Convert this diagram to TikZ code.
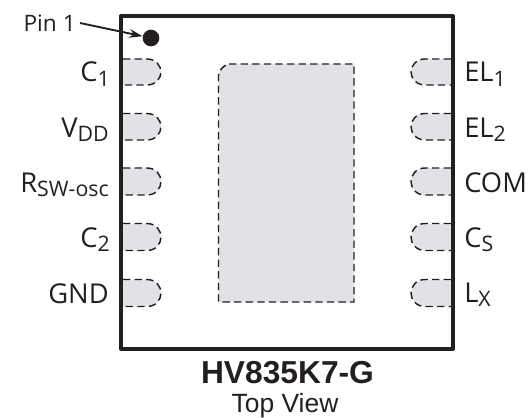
\documentclass[tikz,border=0pt]{standalone}
\usepackage{fontspec}
\setmainfont{Open Sans}
\newfontfamily\headfont{Liberation Sans}
\usetikzlibrary{shapes,arrows.meta}

\definecolor{padgray}{RGB}{225,226,230}
\definecolor{inkblack}{RGB}{35,31,32}

\newcommand{\pinsub}[1]{\raisebox{-3.5pt}{\fontsize{16}{16}\selectfont #1}}

\tikzset{
  pad/.style={fill=padgray,draw=inkblack,line width=1.1pt,dash pattern={on 5.5pt off 3.2pt}},
  pinlabel/.style={inner sep=0pt,text=inkblack,font=\fontsize{20.5}{22}\selectfont}
}

\begin{document}
\begin{tikzpicture}[x=0.75pt,y=0.75pt,yscale=-1,xscale=1]
    \useasboundingbox (0,0) rectangle (530,417);

    %Shape: Exposed Pad
    \draw [pad] (229,64) -- (354,64) -- (354,302) -- (218.5,302) -- (218.5,75) .. controls (219,70) and (224,65) .. (229,64) -- cycle;

    %Shape: Left Pads
    \draw [pad] (123,59) -- (147,59) .. controls (156,59) and (161,66) .. (161,72) .. controls (161,78) and (156,85) .. (147,85) -- (123,85);
    \draw [pad] (123,113.5) -- (147,113.5) .. controls (156,113.5) and (161,120.5) .. (161,126.5) .. controls (161,133) and (156,140) .. (147,140) -- (123,140);
    \draw [pad] (123,168) -- (147,168) .. controls (156,168) and (161,175) .. (161,181.5) .. controls (161,188) and (156,195) .. (147,195) -- (123,195);
    \draw [pad] (123,223.5) -- (147,223.5) .. controls (156,223.5) and (161,230.5) .. (161,237) .. controls (161,243.5) and (156,250.5) .. (147,250.5) -- (123,250.5);
    \draw [pad] (123,279.5) -- (147,279.5) .. controls (156,279.5) and (161,286.5) .. (161,293) .. controls (161,299.5) and (156,306.5) .. (147,306.5) -- (123,306.5);

    %Shape: Right Pads
    \draw [pad] (451,59) -- (425,59) .. controls (416,59) and (411,66) .. (411,72) .. controls (411,78) and (416,85) .. (425,85) -- (451,85);
    \draw [pad] (451,113.5) -- (425,113.5) .. controls (416,113.5) and (411,120.5) .. (411,126.5) .. controls (411,133) and (416,140) .. (425,140) -- (451,140);
    \draw [pad] (451,168) -- (425,168) .. controls (416,168) and (411,175) .. (411,181.5) .. controls (411,188) and (416,195) .. (425,195) -- (451,195);
    \draw [pad] (451,223.5) -- (425,223.5) .. controls (416,223.5) and (411,230.5) .. (411,237) .. controls (411,243.5) and (416,250.5) .. (425,250.5) -- (451,250.5);
    \draw [pad] (451,279.5) -- (425,279.5) .. controls (416,279.5) and (411,286.5) .. (411,293) .. controls (411,299.5) and (416,306.5) .. (425,306.5) -- (451,306.5);

    %Shape: Package Outline
    \draw [draw=inkblack,line width=3pt,line join=round] (121,16) rectangle (453,348.5);

    %Shape: Pin Dot
    \node (pindot) [circle,fill=inkblack,minimum size=12.5pt,inner sep=0pt] at (151,38) {};

    % Text Node
    \node (pinone) [pinlabel,anchor=east,font=\fontsize{17}{19}\selectfont] at (76,23) {Pin 1};
    %Straight Lines
    \draw [-{Stealth[length=10pt,width=6.5pt]},draw=inkblack,line width=1.4pt] (pinone.east) ++(4,0) -- (pindot);

    % Text Node
    \node (cone) [pinlabel,anchor=base east] at (110,82) {C\pinsub{1}};
    % Text Node
    \node (vdd) [pinlabel,anchor=base east] at (109,137) {V\pinsub{DD}};
    % Text Node
    \node (rsw) [pinlabel,anchor=base east] at (109,192) {R\pinsub{SW-osc}};
    % Text Node
    \node (ctwo) [pinlabel,anchor=base east] at (110,247) {C\pinsub{2}};
    % Text Node
    \node (gnd) [pinlabel,anchor=base east] at (109,303) {GND};
    % Text Node
    \node (elone) [pinlabel,anchor=base west] at (464,82) {EL\pinsub{1}};
    % Text Node
    \node (eltwo) [pinlabel,anchor=base west] at (464,137) {EL\pinsub{2}};
    % Text Node
    \node (com) [pinlabel,anchor=base west] at (464,192) {COM};
    % Text Node
    \node (cs) [pinlabel,anchor=base west] at (464,247) {C\pinsub{S}};
    % Text Node
    \node (lx) [pinlabel,anchor=base west] at (464,302) {L\pinsub{X}};
    % Text Node
    \node (partno) [inner sep=0pt,anchor=base,text=inkblack,font=\headfont\bfseries\fontsize{23.8}{25}\selectfont] at (287.5,383) {HV835K7-G};
    % Text Node
    \node (topview) [inner sep=0pt,anchor=base,text=inkblack,font=\headfont\fontsize{19.8}{21}\selectfont] at (285,412) {Top View};

\end{tikzpicture}
\end{document}
